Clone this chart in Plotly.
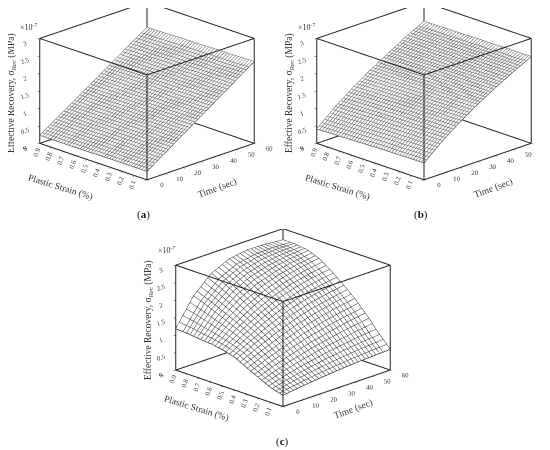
import plotly.graph_objects as go

time_sec = [0, 10, 20, 30, 40, 50, 60]
strain_pct = [0.1, 0.2, 0.3, 0.4, 0.5, 0.6, 0.7, 0.8, 0.9, 1.0]

recovery_a = [
    [0.24, 0.59, 0.94, 1.29, 1.64, 1.99, 2.34],
    [0.24, 0.59, 0.93, 1.28, 1.63, 1.98, 2.33],
    [0.24, 0.58, 0.93, 1.28, 1.63, 1.97, 2.32],
    [0.24, 0.58, 0.93, 1.27, 1.62, 1.97, 2.32],
    [0.24, 0.58, 0.92, 1.27, 1.62, 1.96, 2.31],
    [0.23, 0.58, 0.92, 1.27, 1.61, 1.96, 2.30],
    [0.23, 0.57, 0.92, 1.26, 1.61, 1.95, 2.30],
    [0.23, 0.57, 0.91, 1.26, 1.60, 1.94, 2.29],
    [0.23, 0.57, 0.91, 1.25, 1.59, 1.94, 2.28],
    [0.23, 0.57, 0.91, 1.25, 1.59, 1.93, 2.27],
]
recovery_b = [
    [0.48, 0.92, 1.30, 1.64, 1.94, 2.22, 2.48],
    [0.48, 0.91, 1.29, 1.63, 1.94, 2.22, 2.48],
    [0.47, 0.91, 1.29, 1.63, 1.93, 2.21, 2.48],
    [0.47, 0.90, 1.28, 1.62, 1.93, 2.21, 2.47],
    [0.46, 0.90, 1.28, 1.62, 1.92, 2.20, 2.47],
    [0.45, 0.89, 1.27, 1.61, 1.92, 2.20, 2.47],
    [0.44, 0.88, 1.26, 1.60, 1.91, 2.19, 2.46],
    [0.43, 0.87, 1.25, 1.59, 1.90, 2.19, 2.46],
    [0.42, 0.86, 1.24, 1.58, 1.89, 2.18, 2.45],
    [0.41, 0.85, 1.23, 1.57, 1.88, 2.18, 2.45],
]
recovery_c = [
    [0.32, 0.39, 0.45, 0.50, 0.54, 0.57, 0.59],
    [0.42, 0.56, 0.67, 0.76, 0.84, 0.90, 0.95],
    [0.58, 0.76, 0.92, 1.06, 1.17, 1.27, 1.35],
    [0.75, 0.98, 1.18, 1.36, 1.50, 1.61, 1.70],
    [0.93, 1.19, 1.44, 1.65, 1.81, 1.92, 2.00],
    [1.03, 1.36, 1.66, 1.90, 2.07, 2.19, 2.27],
    [1.09, 1.52, 1.86, 2.12, 2.30, 2.42, 2.50],
    [1.12, 1.67, 2.07, 2.33, 2.48, 2.58, 2.63],
    [1.16, 1.82, 2.26, 2.52, 2.64, 2.68, 2.68],
    [1.18, 1.95, 2.42, 2.66, 2.74, 2.73, 2.68],
]

T_RANGE = [0, 60]
S_RANGE = [0.1, 1]
Z_RANGE = [0, 3]
T_AXIS = [-0.01, 60.01]
S_AXIS = [0.0995, 1.0005]
Z_AXIS = [-0.001, 3.001]

# name, values, domain x, domain y, camera shift, time mesh step, strain mesh step, mesh colour
panels = [
    ("scene", recovery_a, [0.0, 0.505], [0.55, 1.0], -0.195, 1.5, 0.0225, "#555555"),
    ("scene2", recovery_b, [0.51, 1.0], [0.55, 1.0], -0.195, 1.5, 0.0225, "#555555"),
    ("scene3", recovery_c, [0.235, 0.765], [0.06, 0.51], -0.135, 2, 0.03, "#333333"),
]

FONT = "Liberation Serif"
INK = "#333333"
FRAME = "#222222"
fig = go.Figure()
layout = {}


def axis(rng, tick0, dtick, angle=None):
    d = dict(
        title=dict(text=""),
        range=rng, tick0=tick0, dtick=dtick, tickmode="linear",
        showgrid=False, zeroline=False, showbackground=False, showline=False,
        ticks="outside", ticklen=3, tickcolor=FRAME, tickwidth=1,
        tickfont=dict(family=FONT, size=9, color=INK), showspikes=False,
    )
    if angle is not None:
        d["tickangle"] = angle
    return d


def frame_lines(scene):
    t0, t1 = T_RANGE
    s0, s1 = S_RANGE
    z0, z1 = Z_RANGE
    xs, ys, zs = [], [], []
    for a, b in [(t0, s0), (t1, s0), (t1, s1), (t0, s1)]:
        xs += [a, a, None]
        ys += [b, b, None]
        zs += [z0, z1, None]
    for z in (z0, z1):
        xs += [t0, t1, t1, t0, t0, None]
        ys += [s0, s0, s1, s1, s0, None]
        zs += [z, z, z, z, z, None]
    fig.add_trace(go.Scatter3d(x=xs, y=ys, z=zs, mode="lines", scene=scene,
                               line=dict(color=FRAME, width=2), hoverinfo="skip",
                               showlegend=False, connectgaps=False))


def edge_lines(scene, z, color):
    nx, ny = len(time_sec), len(strain_pct)
    sides = [
        (list(time_sec), [strain_pct[0]] * nx, list(z[0])),
        (list(time_sec), [strain_pct[-1]] * nx, list(z[-1])),
        ([time_sec[0]] * ny, list(strain_pct), [r[0] for r in z]),
        ([time_sec[-1]] * ny, list(strain_pct), [r[-1] for r in z]),
    ]
    for xs, ys, zs in sides:
        fig.add_trace(go.Scatter3d(x=xs, y=ys, z=zs, mode="lines", scene=scene,
                                   line=dict(color=color, width=1.5), hoverinfo="skip",
                                   showlegend=False))


for name, z, dx, dy, cz, tstep, sstep, mesh in panels:
    fig.add_trace(go.Surface(
        x=time_sec, y=strain_pct, z=z, scene=name, showscale=False,
        colorscale=[[0, "white"], [1, "white"]],
        lighting=dict(ambient=1, diffuse=0, specular=0, fresnel=0),
        contours=dict(
            x=dict(show=True, start=tstep, end=60 - tstep, size=tstep, color=mesh, width=1),
            y=dict(show=True, start=0.1 + sstep, end=1 - sstep, size=sstep, color=mesh, width=1),
        ),
        hoverinfo="skip",
    ))
    edge_lines(name, z, mesh)
    frame_lines(name)
    layout[name] = dict(
        domain=dict(x=dx, y=dy),
        xaxis=axis(T_AXIS, 0, 10, 0),
        yaxis=axis(S_AXIS, 0.1, 0.1, -70),
        zaxis=axis(Z_AXIS, 0, 0.5),
        aspectmode="manual",
        aspectratio=dict(x=1.495, y=1.495, z=1.10),
        camera=dict(
            eye=dict(x=-1.3, y=-1.3, z=0.665 + cz),
            center=dict(x=0, y=0, z=cz),
            up=dict(x=0, y=0, z=1),
            projection=dict(type="orthographic"),
        ),
    )


def ann(text, x, y, size=9, angle=0, family=FONT, color=INK):
    return dict(text=text, x=x / 550, y=1 - y / 450, xref="paper", yref="paper",
                showarrow=False, textangle=angle, xanchor="center", yanchor="middle",
                font=dict(family=family, size=size, color=color))


ZT = "Effective Recovery, σ<sub>Rec</sub> (MPa)"
anns = [
    ann("(<b>a</b>)", 135, 207, 11, color="#111111"),
    ann("(<b>b</b>)", 413, 207, 11, color="#111111"),
    ann("(<b>c</b>)", 274, 433, 11, color="#111111"),
    ann("×10<sup>-7</sup>", 20, 19, 8), ann("×10<sup>-7</sup>", 298, 19, 8), ann("×10<sup>-7</sup>", 158, 242, 8),
    ann(ZT, 3, 85, 9.5, -90), ann(ZT, 281, 85, 9.5, -90), ann(ZT, 140, 312, 9.5, -90),
    ann("Plastic Strain (%)", 52, 179, 9.5, 17), ann("Plastic Strain (%)", 329, 179, 9.5, 17), ann("Plastic Strain (%)", 188, 400, 9.5, 17),
    ann("Time (sec)", 209, 180, 9.5, -20), ann("Time (sec)", 485, 180, 9.5, -20), ann("Time (sec)", 345, 401, 9.5, -20),
]

fig.update_layout(width=550, height=450, margin=dict(l=0, r=0, t=0, b=0),
                  paper_bgcolor="white", showlegend=False, annotations=anns, **layout)
fig.write_html("out.html")
